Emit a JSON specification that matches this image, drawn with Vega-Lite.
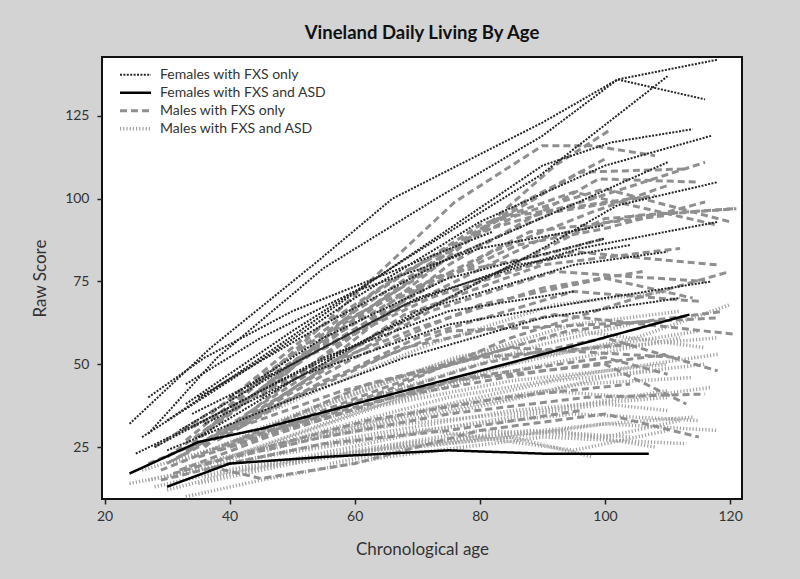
{
  "$schema": "https://vega.github.io/schema/vega-lite/v6.json",
  "width": 640,
  "height": 442,
  "autosize": {"type": "none"},
  "padding": {"left": 102, "top": 57, "right": 58, "bottom": 80},
  "background": "#d3d3d3",
  "title": {"text": "Vineland Daily Living By Age", "font": "Lato", "fontSize": 18.5, "fontWeight": "bold", "color": "#111", "offset": 15},
  "config": {
    "view": {"fill": "white", "stroke": "#111", "strokeWidth": 2},
    "axis": {"domain": false, "grid": false, "tickColor": "#222", "tickSize": 5, "tickWidth": 1.5, "labelFont": "Lato", "labelFontSize": 14, "labelColor": "#333", "titleFont": "Lato", "titleFontSize": 17, "titleFontWeight": "normal", "titleColor": "#333"},
    "legend": {"labelFont": "Lato", "labelFontSize": 14, "labelColor": "#333", "labelLimit": 400}
  },
  "datasets": {
    "lines": [
      {"id":"A1","g":"MA","age":24,"score":14},{"id":"A1","g":"MA","age":35,"score":18},{"id":"A1","g":"MA","age":50,"score":24},{"id":"A1","g":"MA","age":70,"score":30},{"id":"A1","g":"MA","age":95,"score":35},{"id":"A1","g":"MA","age":115,"score":33},
      {"id":"A2","g":"MA","age":27,"score":15},{"id":"A2","g":"MA","age":40,"score":20},{"id":"A2","g":"MA","age":60,"score":28},{"id":"A2","g":"MA","age":85,"score":36},{"id":"A2","g":"MA","age":110,"score":40},
      {"id":"A3","g":"MA","age":30,"score":12},{"id":"A3","g":"MA","age":40,"score":17},{"id":"A3","g":"MA","age":55,"score":22},{"id":"A3","g":"MA","age":75,"score":27},{"id":"A3","g":"MA","age":100,"score":32},{"id":"A3","g":"MA","age":118,"score":30},
      {"id":"A4","g":"MA","age":33,"score":10},{"id":"A4","g":"MA","age":45,"score":15},{"id":"A4","g":"MA","age":65,"score":22},{"id":"A4","g":"MA","age":90,"score":28},{"id":"A4","g":"MA","age":113,"score":26},
      {"id":"A5","g":"MA","age":35,"score":14},{"id":"A5","g":"MA","age":50,"score":20},{"id":"A5","g":"MA","age":70,"score":26},{"id":"A5","g":"MA","age":92,"score":30},{"id":"A5","g":"MA","age":108,"score":25},
      {"id":"A6","g":"MA","age":26,"score":18},{"id":"A6","g":"MA","age":40,"score":26},{"id":"A6","g":"MA","age":60,"score":36},{"id":"A6","g":"MA","age":85,"score":45},{"id":"A6","g":"MA","age":110,"score":50},
      {"id":"A7","g":"MA","age":38,"score":20},{"id":"A7","g":"MA","age":55,"score":30},{"id":"A7","g":"MA","age":75,"score":40},{"id":"A7","g":"MA","age":100,"score":48},{"id":"A7","g":"MA","age":118,"score":53},
      {"id":"A8","g":"MA","age":30,"score":16},{"id":"A8","g":"MA","age":45,"score":25},{"id":"A8","g":"MA","age":65,"score":38},{"id":"A8","g":"MA","age":88,"score":52},{"id":"A8","g":"MA","age":115,"score":60},
      {"id":"A9","g":"MA","age":40,"score":22},{"id":"A9","g":"MA","age":58,"score":34},{"id":"A9","g":"MA","age":80,"score":48},{"id":"A9","g":"MA","age":105,"score":58},{"id":"A9","g":"MA","age":120,"score":68},
      {"id":"A10","g":"MA","age":34,"score":22},{"id":"A10","g":"MA","age":50,"score":34},{"id":"A10","g":"MA","age":70,"score":48},{"id":"A10","g":"MA","age":95,"score":62},{"id":"A10","g":"MA","age":112,"score":66},
      {"id":"A11","g":"MA","age":42,"score":18},{"id":"A11","g":"MA","age":60,"score":24},{"id":"A11","g":"MA","age":80,"score":30},{"id":"A11","g":"MA","age":100,"score":28},{"id":"A11","g":"MA","age":112,"score":33},
      {"id":"A12","g":"MA","age":45,"score":22},{"id":"A12","g":"MA","age":65,"score":28},{"id":"A12","g":"MA","age":85,"score":34},{"id":"A12","g":"MA","age":100,"score":38},{"id":"A12","g":"MA","age":110,"score":36},
      {"id":"A13","g":"MA","age":36,"score":16},{"id":"A13","g":"MA","age":52,"score":22},{"id":"A13","g":"MA","age":72,"score":30},{"id":"A13","g":"MA","age":95,"score":24},{"id":"A13","g":"MA","age":110,"score":30},
      {"id":"A14","g":"MA","age":48,"score":26},{"id":"A14","g":"MA","age":65,"score":32},{"id":"A14","g":"MA","age":82,"score":38},{"id":"A14","g":"MA","age":96,"score":44},{"id":"A14","g":"MA","age":114,"score":46},
      {"id":"A15","g":"MA","age":31,"score":20},{"id":"A15","g":"MA","age":46,"score":30},{"id":"A15","g":"MA","age":66,"score":42},{"id":"A15","g":"MA","age":90,"score":56},{"id":"A15","g":"MA","age":104,"score":62},
      {"id":"A16","g":"MA","age":52,"score":28},{"id":"A16","g":"MA","age":70,"score":36},{"id":"A16","g":"MA","age":90,"score":42},{"id":"A16","g":"MA","age":105,"score":40},{"id":"A16","g":"MA","age":117,"score":43},
      {"id":"A17","g":"MA","age":28,"score":13},{"id":"A17","g":"MA","age":42,"score":19},{"id":"A17","g":"MA","age":62,"score":24},{"id":"A17","g":"MA","age":85,"score":28},{"id":"A17","g":"MA","age":98,"score":22},
      {"id":"A18","g":"MA","age":56,"score":20},{"id":"A18","g":"MA","age":70,"score":25},{"id":"A18","g":"MA","age":85,"score":28},{"id":"A18","g":"MA","age":100,"score":32},{"id":"A18","g":"MA","age":114,"score":34},
      {"id":"A19","g":"MA","age":44,"score":30},{"id":"A19","g":"MA","age":60,"score":42},{"id":"A19","g":"MA","age":78,"score":52},{"id":"A19","g":"MA","age":100,"score":55},{"id":"A19","g":"MA","age":118,"score":58},
      {"id":"A20","g":"MA","age":39,"score":25},{"id":"A20","g":"MA","age":56,"score":38},{"id":"A20","g":"MA","age":76,"score":52},{"id":"A20","g":"MA","age":96,"score":60},{"id":"A20","g":"MA","age":116,"score":55},
      {"id":"A21","g":"MA","age":60,"score":30},{"id":"A21","g":"MA","age":75,"score":38},{"id":"A21","g":"MA","age":92,"score":45},{"id":"A21","g":"MA","age":108,"score":48},
      {"id":"A22","g":"MA","age":33,"score":19},{"id":"A22","g":"MA","age":48,"score":26},{"id":"A22","g":"MA","age":68,"score":32},{"id":"A22","g":"MA","age":90,"score":36},{"id":"A22","g":"MA","age":110,"score":42},
      {"id":"A23","g":"MA","age":50,"score":20},{"id":"A23","g":"MA","age":68,"score":26},{"id":"A23","g":"MA","age":88,"score":30},{"id":"A23","g":"MA","age":104,"score":28},
      {"id":"A24","g":"MA","age":37,"score":28},{"id":"A24","g":"MA","age":54,"score":42},{"id":"A24","g":"MA","age":72,"score":56},{"id":"A24","g":"MA","age":92,"score":68},{"id":"A24","g":"MA","age":110,"score":72},
      {"id":"A25","g":"MA","age":46,"score":24},{"id":"A25","g":"MA","age":64,"score":33},{"id":"A25","g":"MA","age":86,"score":40},{"id":"A25","g":"MA","age":102,"score":47},{"id":"A25","g":"MA","age":116,"score":50},
      {"id":"A26","g":"MA","age":65,"score":38},{"id":"A26","g":"MA","age":80,"score":46},{"id":"A26","g":"MA","age":96,"score":52},{"id":"A26","g":"MA","age":112,"score":58},

      {"id":"M1","g":"MF","age":35,"score":28},{"id":"M1","g":"MF","age":55,"score":62},{"id":"M1","g":"MF","age":76,"score":99},{"id":"M1","g":"MF","age":90,"score":116},{"id":"M1","g":"MF","age":98,"score":116},{"id":"M1","g":"MF","age":108,"score":113},
      {"id":"M2","g":"MF","age":40,"score":30},{"id":"M2","g":"MF","age":60,"score":55},{"id":"M2","g":"MF","age":80,"score":75},{"id":"M2","g":"MF","age":100,"score":94},{"id":"M2","g":"MF","age":121,"score":97},
      {"id":"M3","g":"MF","age":36,"score":25},{"id":"M3","g":"MF","age":60,"score":60},{"id":"M3","g":"MF","age":80,"score":90},{"id":"M3","g":"MF","age":92,"score":110},{"id":"M3","g":"MF","age":101,"score":121},
      {"id":"M4","g":"MF","age":32,"score":22},{"id":"M4","g":"MF","age":55,"score":50},{"id":"M4","g":"MF","age":75,"score":80},{"id":"M4","g":"MF","age":99,"score":106},{"id":"M4","g":"MF","age":115,"score":105},
      {"id":"M5","g":"MF","age":38,"score":32},{"id":"M5","g":"MF","age":58,"score":60},{"id":"M5","g":"MF","age":78,"score":88},{"id":"M5","g":"MF","age":96,"score":108},{"id":"M5","g":"MF","age":113,"score":109},
      {"id":"M6","g":"MF","age":34,"score":26},{"id":"M6","g":"MF","age":50,"score":50},{"id":"M6","g":"MF","age":66,"score":72},{"id":"M6","g":"MF","age":86,"score":98},{"id":"M6","g":"MF","age":100,"score":112},
      {"id":"M7","g":"MF","age":42,"score":38},{"id":"M7","g":"MF","age":60,"score":66},{"id":"M7","g":"MF","age":80,"score":90},{"id":"M7","g":"MF","age":98,"score":100},{"id":"M7","g":"MF","age":116,"score":111},
      {"id":"M8","g":"MF","age":30,"score":20},{"id":"M8","g":"MF","age":48,"score":40},{"id":"M8","g":"MF","age":68,"score":65},{"id":"M8","g":"MF","age":90,"score":80},{"id":"M8","g":"MF","age":112,"score":85},
      {"id":"M9","g":"MF","age":28,"score":25},{"id":"M9","g":"MF","age":45,"score":45},{"id":"M9","g":"MF","age":65,"score":68},{"id":"M9","g":"MF","age":88,"score":90},{"id":"M9","g":"MF","age":110,"score":95},
      {"id":"M10","g":"MF","age":36,"score":30},{"id":"M10","g":"MF","age":52,"score":52},{"id":"M10","g":"MF","age":72,"score":70},{"id":"M10","g":"MF","age":95,"score":84},{"id":"M10","g":"MF","age":118,"score":80},
      {"id":"M11","g":"MF","age":33,"score":24},{"id":"M11","g":"MF","age":50,"score":40},{"id":"M11","g":"MF","age":70,"score":58},{"id":"M11","g":"MF","age":95,"score":72},{"id":"M11","g":"MF","age":115,"score":69},
      {"id":"M12","g":"MF","age":31,"score":21},{"id":"M12","g":"MF","age":48,"score":38},{"id":"M12","g":"MF","age":68,"score":55},{"id":"M12","g":"MF","age":92,"score":65},{"id":"M12","g":"MF","age":121,"score":59},
      {"id":"M13","g":"MF","age":38,"score":27},{"id":"M13","g":"MF","age":55,"score":45},{"id":"M13","g":"MF","age":75,"score":60},{"id":"M13","g":"MF","age":98,"score":62},{"id":"M13","g":"MF","age":118,"score":64},
      {"id":"M14","g":"MF","age":29,"score":18},{"id":"M14","g":"MF","age":45,"score":30},{"id":"M14","g":"MF","age":62,"score":44},{"id":"M14","g":"MF","age":85,"score":55},{"id":"M14","g":"MF","age":112,"score":52},
      {"id":"M15","g":"MF","age":40,"score":25},{"id":"M15","g":"MF","age":60,"score":38},{"id":"M15","g":"MF","age":80,"score":50},{"id":"M15","g":"MF","age":100,"score":58},{"id":"M15","g":"MF","age":118,"score":48},
      {"id":"M16","g":"MF","age":35,"score":22},{"id":"M16","g":"MF","age":52,"score":32},{"id":"M16","g":"MF","age":75,"score":45},{"id":"M16","g":"MF","age":100,"score":50},{"id":"M16","g":"MF","age":113,"score":38},
      {"id":"M17","g":"MF","age":37,"score":19},{"id":"M17","g":"MF","age":45,"score":15.5},{"id":"M17","g":"MF","age":60,"score":20},{"id":"M17","g":"MF","age":80,"score":30},{"id":"M17","g":"MF","age":100,"score":35},{"id":"M17","g":"MF","age":115,"score":28},
      {"id":"M18","g":"MF","age":32,"score":18},{"id":"M18","g":"MF","age":46,"score":28},{"id":"M18","g":"MF","age":66,"score":40},{"id":"M18","g":"MF","age":90,"score":48},{"id":"M18","g":"MF","age":110,"score":53},
      {"id":"M19","g":"MF","age":37,"score":35},{"id":"M19","g":"MF","age":52,"score":58},{"id":"M19","g":"MF","age":68,"score":78},{"id":"M19","g":"MF","age":86,"score":95},{"id":"M19","g":"MF","age":104,"score":100},
      {"id":"M20","g":"MF","age":45,"score":40},{"id":"M20","g":"MF","age":62,"score":70},{"id":"M20","g":"MF","age":80,"score":92},{"id":"M20","g":"MF","age":95,"score":102},{"id":"M20","g":"MF","age":118,"score":92},
      {"id":"M21","g":"MF","age":30,"score":22},{"id":"M21","g":"MF","age":42,"score":38},{"id":"M21","g":"MF","age":58,"score":62},{"id":"M21","g":"MF","age":75,"score":82},{"id":"M21","g":"MF","age":92,"score":96},{"id":"M21","g":"MF","age":108,"score":101},
      {"id":"M22","g":"MF","age":33,"score":27},{"id":"M22","g":"MF","age":48,"score":50},{"id":"M22","g":"MF","age":64,"score":73},{"id":"M22","g":"MF","age":82,"score":93},{"id":"M22","g":"MF","age":100,"score":103},{"id":"M22","g":"MF","age":120,"score":93},
      {"id":"M23","g":"MF","age":39,"score":30},{"id":"M23","g":"MF","age":55,"score":48},{"id":"M23","g":"MF","age":72,"score":66},{"id":"M23","g":"MF","age":92,"score":78},{"id":"M23","g":"MF","age":116,"score":75},
      {"id":"M24","g":"MF","age":43,"score":34},{"id":"M24","g":"MF","age":60,"score":52},{"id":"M24","g":"MF","age":80,"score":68},{"id":"M24","g":"MF","age":100,"score":76},{"id":"M24","g":"MF","age":114,"score":70},
      {"id":"M25","g":"MF","age":27,"score":20},{"id":"M25","g":"MF","age":40,"score":30},{"id":"M25","g":"MF","age":58,"score":42},{"id":"M25","g":"MF","age":80,"score":52},{"id":"M25","g":"MF","age":104,"score":56},
      {"id":"M26","g":"MF","age":47,"score":30},{"id":"M26","g":"MF","age":65,"score":42},{"id":"M26","g":"MF","age":85,"score":58},{"id":"M26","g":"MF","age":105,"score":70},{"id":"M26","g":"MF","age":120,"score":78},
      {"id":"M27","g":"MF","age":36,"score":20},{"id":"M27","g":"MF","age":55,"score":28},{"id":"M27","g":"MF","age":75,"score":35},{"id":"M27","g":"MF","age":97,"score":40},{"id":"M27","g":"MF","age":116,"score":41},
      {"id":"M28","g":"MF","age":41,"score":27},{"id":"M28","g":"MF","age":58,"score":36},{"id":"M28","g":"MF","age":78,"score":46},{"id":"M28","g":"MF","age":100,"score":52},{"id":"M28","g":"MF","age":110,"score":47},
      {"id":"M29","g":"MF","age":34,"score":31},{"id":"M29","g":"MF","age":50,"score":46},{"id":"M29","g":"MF","age":70,"score":61},{"id":"M29","g":"MF","age":90,"score":73},{"id":"M29","g":"MF","age":106,"score":78},
      {"id":"M30","g":"MF","age":50,"score":45},{"id":"M30","g":"MF","age":65,"score":66},{"id":"M30","g":"MF","age":82,"score":84},{"id":"M30","g":"MF","age":98,"score":96},{"id":"M30","g":"MF","age":110,"score":104},
      {"id":"M31","g":"MF","age":38,"score":24},{"id":"M31","g":"MF","age":52,"score":34},{"id":"M31","g":"MF","age":72,"score":48},{"id":"M31","g":"MF","age":94,"score":60},{"id":"M31","g":"MF","age":119,"score":66},
      {"id":"M32","g":"MF","age":44,"score":45},{"id":"M32","g":"MF","age":58,"score":63},{"id":"M32","g":"MF","age":74,"score":77},{"id":"M32","g":"MF","age":90,"score":83},{"id":"M32","g":"MF","age":100,"score":88},
      {"id":"M33","g":"MF","age":31,"score":17},{"id":"M33","g":"MF","age":44,"score":24},{"id":"M33","g":"MF","age":62,"score":33},{"id":"M33","g":"MF","age":84,"score":40},{"id":"M33","g":"MF","age":104,"score":44},
      {"id":"M34","g":"MF","age":55,"score":55},{"id":"M34","g":"MF","age":70,"score":72},{"id":"M34","g":"MF","age":86,"score":86},{"id":"M34","g":"MF","age":100,"score":91},{"id":"M34","g":"MF","age":116,"score":99},
      {"id":"M35","g":"MF","age":29,"score":15},{"id":"M35","g":"MF","age":40,"score":20},{"id":"M35","g":"MF","age":55,"score":26},{"id":"M35","g":"MF","age":75,"score":30},{"id":"M35","g":"MF","age":96,"score":36},
      {"id":"M36","g":"MF","age":60,"score":60},{"id":"M36","g":"MF","age":75,"score":74},{"id":"M36","g":"MF","age":90,"score":88},{"id":"M36","g":"MF","age":105,"score":95},{"id":"M36","g":"MF","age":121,"score":97},

      {"id":"F1","g":"FF","age":24,"score":32},{"id":"F1","g":"FF","age":37,"score":55},{"id":"F1","g":"FF","age":54,"score":81},{"id":"F1","g":"FF","age":66,"score":100},{"id":"F1","g":"FF","age":90,"score":123},{"id":"F1","g":"FF","age":102,"score":136},{"id":"F1","g":"FF","age":118,"score":142},
      {"id":"F2","g":"FF","age":27,"score":29},{"id":"F2","g":"FF","age":38,"score":52},{"id":"F2","g":"FF","age":55,"score":79},{"id":"F2","g":"FF","age":73,"score":100},{"id":"F2","g":"FF","age":90,"score":119},{"id":"F2","g":"FF","age":102,"score":136},{"id":"F2","g":"FF","age":116,"score":130},
      {"id":"F3","g":"FF","age":33,"score":38},{"id":"F3","g":"FF","age":50,"score":60},{"id":"F3","g":"FF","age":70,"score":84},{"id":"F3","g":"FF","age":89.6,"score":107},{"id":"F3","g":"FF","age":110,"score":137},
      {"id":"F4","g":"FF","age":30,"score":33},{"id":"F4","g":"FF","age":45,"score":52},{"id":"F4","g":"FF","age":65,"score":78},{"id":"F4","g":"FF","age":90,"score":110},{"id":"F4","g":"FF","age":101,"score":117},{"id":"F4","g":"FF","age":114,"score":121},
      {"id":"F5","g":"FF","age":26,"score":28},{"id":"F5","g":"FF","age":40,"score":45},{"id":"F5","g":"FF","age":60,"score":70},{"id":"F5","g":"FF","age":80,"score":93},{"id":"F5","g":"FF","age":100,"score":110},{"id":"F5","g":"FF","age":117,"score":119},
      {"id":"F6","g":"FF","age":35,"score":40},{"id":"F6","g":"FF","age":55,"score":62},{"id":"F6","g":"FF","age":75,"score":82},{"id":"F6","g":"FF","age":97,"score":100},{"id":"F6","g":"FF","age":110,"score":111},
      {"id":"F7","g":"FF","age":28,"score":25},{"id":"F7","g":"FF","age":45,"score":42},{"id":"F7","g":"FF","age":70,"score":65},{"id":"F7","g":"FF","age":90,"score":85},{"id":"F7","g":"FF","age":102,"score":98},{"id":"F7","g":"FF","age":118,"score":105},
      {"id":"F8","g":"FF","age":34,"score":35},{"id":"F8","g":"FF","age":50,"score":50},{"id":"F8","g":"FF","age":70,"score":70},{"id":"F8","g":"FF","age":96,"score":85},{"id":"F8","g":"FF","age":118,"score":93},
      {"id":"F9","g":"FF","age":35,"score":28},{"id":"F9","g":"FF","age":50,"score":45},{"id":"F9","g":"FF","age":70,"score":66},{"id":"F9","g":"FF","age":95,"score":80},{"id":"F9","g":"FF","age":110,"score":84},
      {"id":"F10","g":"FF","age":40,"score":40},{"id":"F10","g":"FF","age":55,"score":58},{"id":"F10","g":"FF","age":75,"score":76},{"id":"F10","g":"FF","age":100,"score":88},
      {"id":"F11","g":"FF","age":30,"score":24},{"id":"F11","g":"FF","age":48,"score":38},{"id":"F11","g":"FF","age":68,"score":52},{"id":"F11","g":"FF","age":90,"score":64},{"id":"F11","g":"FF","age":112,"score":70},
      {"id":"F12","g":"FF","age":36,"score":32},{"id":"F12","g":"FF","age":52,"score":47},{"id":"F12","g":"FF","age":75,"score":62},{"id":"F12","g":"FF","age":100,"score":70},{"id":"F12","g":"FF","age":117,"score":75},
      {"id":"F13","g":"FF","age":32,"score":30},{"id":"F13","g":"FF","age":50,"score":50},{"id":"F13","g":"FF","age":68,"score":68},{"id":"F13","g":"FF","age":86,"score":80},{"id":"F13","g":"FF","age":104,"score":86},
      {"id":"F14","g":"FF","age":25,"score":23},{"id":"F14","g":"FF","age":38,"score":35},{"id":"F14","g":"FF","age":55,"score":52},{"id":"F14","g":"FF","age":75,"score":66},{"id":"F14","g":"FF","age":95,"score":72},
      {"id":"F15","g":"FF","age":27,"score":40},{"id":"F15","g":"FF","age":36,"score":52},{"id":"F15","g":"FF","age":50,"score":66},{"id":"F15","g":"FF","age":66,"score":78},{"id":"F15","g":"FF","age":82,"score":90},
      {"id":"F16","g":"FF","age":33,"score":44},{"id":"F16","g":"FF","age":45,"score":58},{"id":"F16","g":"FF","age":60,"score":72},{"id":"F16","g":"FF","age":80,"score":85},{"id":"F16","g":"FF","age":100,"score":92},

      {"id":"S1","g":"FA","age":24,"score":17},{"id":"S1","g":"FA","age":35,"score":26.5},{"id":"S1","g":"FA","age":45,"score":30.5},{"id":"S1","g":"FA","age":70,"score":43},{"id":"S1","g":"FA","age":90,"score":53},{"id":"S1","g":"FA","age":113.5,"score":65},
      {"id":"S2","g":"FA","age":30,"score":13},{"id":"S2","g":"FA","age":40,"score":20},{"id":"S2","g":"FA","age":55,"score":22},{"id":"S2","g":"FA","age":75,"score":24},{"id":"S2","g":"FA","age":90,"score":23},{"id":"S2","g":"FA","age":107,"score":23}
    ]
  },
  "data": {"name": "lines"},
  "mark": {"type": "line", "clip": true},
  "encoding": {
    "x": {"field": "age", "type": "quantitative", "title": "Chronological age",
      "scale": {"domain": [19.6, 121.9], "nice": false, "zero": false},
      "axis": {"values": [20, 40, 60, 80, 100, 120], "labelPadding": 5, "titlePadding": 18}},
    "y": {"field": "score", "type": "quantitative", "title": "Raw Score",
      "scale": {"domain": [9.3, 142.8], "nice": false, "zero": false},
      "axis": {"values": [25, 50, 75, 100, 125], "labelPadding": 8, "titlePadding": 15}},
    "detail": {"field": "id"},
    "color": {"field": "g", "type": "nominal", "title": null,
      "scale": {"domain": ["FF", "FA", "MF", "MA"], "range": ["#262626", "#000000", "#8f8f8f", "#a3a3a3"]},
      "legend": {"orient": "none", "legendX": 16, "legendY": 9, "symbolType": "stroke", "symbolSize": 961, "clipHeight": 17.4, "rowPadding": 0, "labelOffset": 7, "padding": 0, "labelLimit": 400,
        "labelExpr": "{'FF':'Females with FXS only','FA':'Females with FXS and ASD','MF':'Males with FXS only','MA':'Males with FXS and ASD'}[datum.label]"}},
    "strokeDash": {"field": "g", "type": "nominal", "title": null,
      "scale": {"domain": ["FF", "FA", "MF", "MA"], "range": [[2, 1.4], [1, 0], [7, 4], [1.2, 2]]}},
    "strokeWidth": {"field": "g", "type": "nominal", "title": null,
      "scale": {"domain": ["FF", "FA", "MF", "MA"], "range": [2, 3.5, 2, 1.2]}}
  }
}
